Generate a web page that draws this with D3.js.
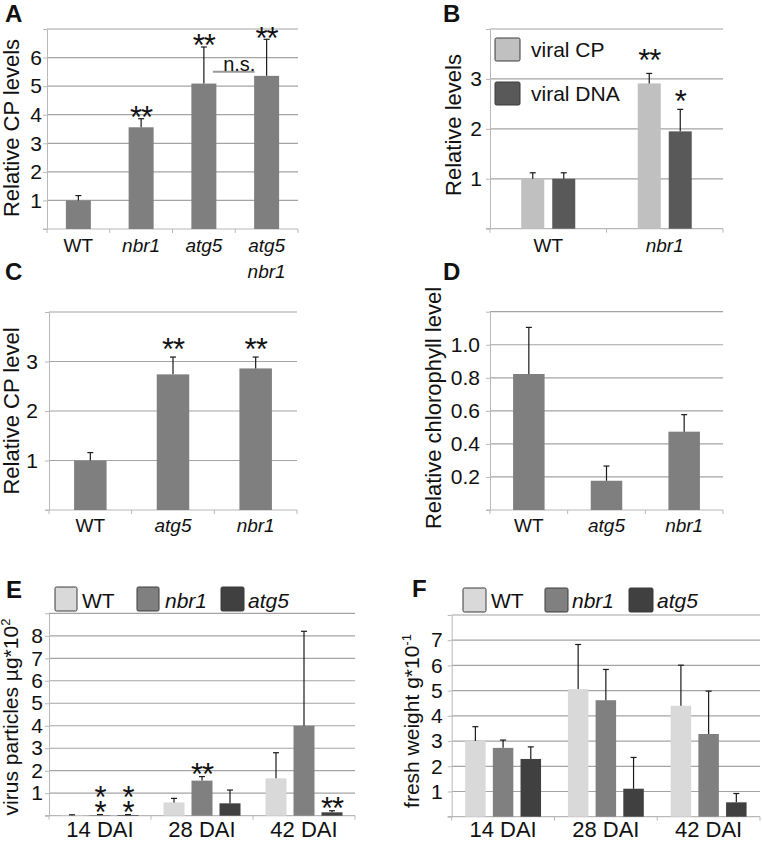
<!DOCTYPE html>
<html><head><meta charset="utf-8">
<script src="https://cdn.jsdelivr.net/npm/d3@7"></script>
<style>body{margin:0;background:#fff}svg{display:block}</style>
</head><body><svg id="c" width="762" height="842"></svg>
<script>
// ---------- DATA ----------
// Panel A
const aCategories = ["WT", "nbr1", "atg5", "atg5\nnbr1"];
const aValues = [1.0, 3.56, 5.09, 5.36];
const aErrors = [0.17, 0.30, 1.28, 1.28];
const aStars = ["", "**", "**", "**"];
const aTickLabels = [1, 2, 3, 4, 5, 6];

// Panel B
const bCategories = ["WT", "nbr1"];
const bSeriesNames = ["viral CP", "viral DNA"];
const bCP = [1.0, 2.91];
const bCPErr = [0.12, 0.20];
const bDNA = [1.0, 1.95];
const bDNAErr = [0.12, 0.44];
const bCPStars = ["", "**"];
const bDNAStars = ["", "*"];
const bTickLabels = [1, 2, 3];

// Panel C
const cCategories = ["WT", "atg5", "nbr1"];
const cValues = [1.0, 2.74, 2.86];
const cErrors = [0.16, 0.35, 0.23];
const cStars = ["", "**", "**"];
const cTickLabels = [1, 2, 3];

// Panel D
const dCategories = ["WT", "atg5", "nbr1"];
const dValues = [0.823, 0.177, 0.474];
const dErrors = [0.282, 0.089, 0.103];
const dStars = ["", "", ""];
const dTickLabels = [0.2, 0.4, 0.6, 0.8, 1.0];

// Panel E
const eCategories = ["14 DAI", "28 DAI", "42 DAI"];
const eSeriesNames = ["WT", "nbr1", "atg5"];
const eWT = [0.02, 0.59, 1.66];
const eWTErr = [0.02, 0.18, 1.14];
const eNbr1 = [0.03, 1.56, 4.0];
const eNbr1Err = [0.02, 0.18, 4.2];
const eAtg5 = [0.03, 0.55, 0.15];
const eAtg5Err = [0.02, 0.59, 0.07];
const eWTStars = ["", "", ""];
const eNbr1Stars = ["*\n*", "**", ""];
const eAtg5Stars = ["*\n*", "", "**"];
const eTickLabels = [1, 2, 3, 4, 5, 6, 7, 8];

// Panel F
const fCategories = ["14 DAI", "28 DAI", "42 DAI"];
const fSeriesNames = ["WT", "nbr1", "atg5"];
const fWT = [3.0, 5.06, 4.40];
const fWTErr = [0.57, 1.77, 1.61];
const fNbr1 = [2.73, 4.62, 3.28];
const fNbr1Err = [0.31, 1.22, 1.70];
const fAtg5 = [2.29, 1.11, 0.57];
const fAtg5Err = [0.48, 1.24, 0.35];
const fTickLabels = [1, 2, 3, 4, 5, 6, 7];

// ---------- DRAWING ----------
const FONT = '"Liberation Sans", Arial, Helvetica, sans-serif';
const svg = d3.select("#c").attr("font-family", FONT);
const GRID = "#a4a4a4", AXIS = "#b8b8b8";
const ITALIC = new Set(["nbr1", "atg5", "atg5\nnbr1"]);
const STAR_FONT = 31;

function drawPanel(p) {
  const g = svg.append("g");
  const x = d3.scaleBand().domain(p.categories).range([p.x0, p.x1]);
  const y = d3.scaleLinear().domain([0, p.yMax]).range([p.y0, p.y1]);
  const nGrid = Math.round(p.yMax / p.step);
  const gridVals = d3.range(1, nGrid + 1).map(i => +(i * p.step).toFixed(4));

  // gridlines
  g.append("g").selectAll("line").data(gridVals).join("line")
    .attr("x1", p.x0).attr("x2", p.x1)
    .attr("y1", d => y(d)).attr("y2", d => y(d))
    .attr("stroke", GRID).attr("stroke-width", 1.2);

  // left axis
  const yAxis = d3.axisLeft(y).tickValues([0, ...gridVals]).tickSize(4).tickSizeOuter(0)
    .tickPadding(p.labelGap)
    .tickFormat(d => p.tickLabels.some(t => Math.abs(t - d) < 1e-6) ? p.fmt(d) : "");
  const ga = g.append("g").attr("transform", `translate(${p.x0},0)`).call(yAxis)
    .attr("font-family", FONT).attr("font-size", p.tickFont);
  ga.select(".domain").attr("stroke", AXIS);
  ga.selectAll(".tick line").attr("stroke", AXIS);
  ga.selectAll(".tick text").attr("fill", "#111");

  // bottom axis
  g.append("line").attr("x1", p.x0 - 4).attr("x2", p.x1).attr("y1", p.y0).attr("y2", p.y0)
    .attr("stroke", AXIS).attr("stroke-width", 1.2);
  const bounds = p.categories.map(c => x(c)).concat([p.x1]);
  g.append("g").selectAll("line").data(bounds).join("line")
    .attr("x1", d => d).attr("x2", d => d).attr("y1", p.y0).attr("y2", p.y0 + 4)
    .attr("stroke", AXIS);

  // x labels
  p.categories.forEach(c => {
    const lines = c.split("\n");
    const t = g.append("text").attr("x", x(c) + x.bandwidth() / 2).attr("y", p.y0 + p.xLabelDy)
      .attr("text-anchor", "middle").attr("font-size", p.xFont).attr("fill", "#111")
      .attr("font-style", ITALIC.has(c) ? "italic" : "normal");
    lines.forEach((ln, i) => t.append("tspan").attr("x", x(c) + x.bandwidth() / 2)
      .attr("dy", i === 0 ? 0 : p.xFont * 1.37).text(ln));
  });

  // bars
  const n = p.series.length;
  const inner = d3.scaleBand().domain(p.series.map(s => s.name))
    .range([-n * p.barStep / 2, n * p.barStep / 2])
    .paddingInner(1 - p.barWidth / p.barStep).paddingOuter((1 - p.barWidth / p.barStep) / 2);
  const centers = [];
  p.series.forEach(s => {
    p.categories.forEach((c, i) => {
      const cx = x(c) + x.bandwidth() / 2 + inner(s.name) + inner.bandwidth() / 2;
      const v = s.values[i], e = s.errors[i];
      g.append("rect").attr("x", cx - inner.bandwidth() / 2).attr("y", y(v))
        .attr("width", inner.bandwidth()).attr("height", y(0) - y(v)).attr("fill", s.color);
      g.append("line").attr("x1", cx).attr("x2", cx).attr("y1", y(v)).attr("y2", y(v + e))
        .attr("stroke", "#1a1a1a").attr("stroke-width", 1.2);
      g.append("line").attr("x1", cx - 3).attr("x2", cx + 3).attr("y1", y(v + e)).attr("y2", y(v + e))
        .attr("stroke", "#1a1a1a").attr("stroke-width", 1.2);
      const st = s.stars ? s.stars[i] : "";
      if (st) {
        const rows = st.split("\n");
        rows.forEach((r, k) => {
          const cy = y(v + e) - (s.starOffset || p.starOffset) - (rows.length - 1 - k) * 15;
          g.append("text").attr("x", cx).attr("y", cy + STAR_FONT * 0.59).attr("text-anchor", "middle")
            .attr("font-size", STAR_FONT).attr("letter-spacing", -1).attr("fill", "#111").text(r);
        });
      }
      centers.push({ series: s.name, cat: c, cx });
    });
  });

  // y label
  const yl = g.append("text").attr("transform", `translate(${p.ylx},${p.yly}) rotate(-90)`)
    .attr("text-anchor", "middle").attr("font-size", p.yFont).attr("fill", "#111");
  yl.append("tspan").text(p.yLabel);
  if (p.ySup) {
    yl.append("tspan").attr("dy", -8).attr("font-size", 13).text(p.ySup);
  }

  // panel letter
  svg.append("text").attr("x", p.letterX).attr("y", p.letterY).attr("font-size", 24)
    .attr("font-weight", "bold").attr("fill", "#111").text(p.letter);

  return { g, x, y, centers };
}

function legend(items, font) {
  items.forEach(it => {
    svg.append("rect").attr("x", it.sx).attr("y", it.sy).attr("width", it.w).attr("height", it.h)
      .attr("rx", 1.5).attr("fill", it.color).attr("stroke", "#3a3a3a").attr("stroke-width", 1);
    svg.append("text").attr("x", it.tx).attr("y", it.ty).attr("font-size", font).attr("fill", "#111")
      .attr("font-style", ITALIC.has(it.label) ? "italic" : "normal").text(it.label);
  });
}

const MID = "#7f7f7f";

// Panel A
const A = drawPanel({
  letter: "A", letterX: 5, letterY: 22,
  categories: aCategories, x0: 47, x1: 298, y0: 229, y1: 29, yMax: 7, step: 1,
  tickLabels: aTickLabels, fmt: d3.format("d"), labelGap: 1, tickFont: 21,
  xFont: 19, xLabelDy: 23, barWidth: 25, barStep: 25, starOffset: 9,
  series: [{ name: "A", values: aValues, errors: aErrors, stars: aStars, color: MID }],
  yLabel: "Relative CP levels", yFont: 22, ylx: 19, yly: 128
});
// n.s. annotation
{
  const xa = A.centers.find(c => c.cat === "atg5").cx;
  const xb = A.centers.find(c => c.cat === "atg5\nnbr1").cx;
  const ly = A.y(5.5);
  A.g.append("line").attr("x1", xa + 9).attr("x2", xb - 12).attr("y1", ly).attr("y2", ly)
    .attr("stroke", "#9a9a9a").attr("stroke-width", 2);
  A.g.append("text").attr("x", (xa + xb) / 2 + 4).attr("y", ly - 1).attr("text-anchor", "middle")
    .attr("font-size", 20).attr("fill", "#111").text("n.s.");
}

// Panel B
drawPanel({
  letter: "B", letterX: 443, letterY: 22,
  categories: bCategories, x0: 490, x1: 723, y0: 228.7, y1: 29, yMax: 4, step: 1,
  tickLabels: bTickLabels, fmt: d3.format("d"), labelGap: 4, tickFont: 21,
  xFont: 19, xLabelDy: 23, barWidth: 23, barStep: 31, starOffset: 18,
  series: [
    { name: bSeriesNames[0], values: bCP, errors: bCPErr, stars: bCPStars, color: "#c0c0c0", starOffset: 21 },
    { name: bSeriesNames[1], values: bDNA, errors: bDNAErr, stars: bDNAStars, color: "#595959", starOffset: 16 }
  ],
  yLabel: "Relative levels", yFont: 22, ylx: 461, yly: 125
});
legend([
  { sx: 495, sy: 38, w: 25, h: 23, color: "#c0c0c0", tx: 531, ty: 57, label: bSeriesNames[0] },
  { sx: 495, sy: 82, w: 25, h: 23, color: "#595959", tx: 531, ty: 101, label: bSeriesNames[1] }
], 21);

// Panel C
drawPanel({
  letter: "C", letterX: 5, letterY: 280,
  categories: cCategories, x0: 49, x1: 297, y0: 510, y1: 312, yMax: 4, step: 1,
  tickLabels: cTickLabels, fmt: d3.format("d"), labelGap: 7, tickFont: 21,
  xFont: 19, xLabelDy: 22, barWidth: 32.5, barStep: 32.5, starOffset: 15,
  series: [{ name: "C", values: cValues, errors: cErrors, stars: cStars, color: MID }],
  yLabel: "Relative CP level", yFont: 22, ylx: 19, yly: 411
});

// Panel D
drawPanel({
  letter: "D", letterX: 443, letterY: 280,
  categories: dCategories, x0: 490, x1: 723, y0: 510, y1: 311.7, yMax: 1.2, step: 0.2,
  tickLabels: dTickLabels, fmt: d3.format(".1f"), labelGap: 6, tickFont: 21,
  xFont: 19, xLabelDy: 22, barWidth: 31.5, barStep: 31.5, starOffset: 15,
  series: [{ name: "D", values: dValues, errors: dErrors, stars: dStars, color: MID }],
  yLabel: "Relative chlorophyll level", yFont: 22, ylx: 441, yly: 408
});

// Panel E
drawPanel({
  letter: "E", letterX: 6, letterY: 598,
  categories: eCategories, x0: 49, x1: 355, y0: 815.7, y1: 613.3, yMax: 9, step: 1,
  tickLabels: eTickLabels, fmt: d3.format("d"), labelGap: 2, tickFont: 21,
  xFont: 22, xLabelDy: 21.3, barWidth: 21, barStep: 28, starOffset: 10,
  series: [
    { name: eSeriesNames[0], values: eWT, errors: eWTErr, stars: eWTStars, color: "#d9d9d9" },
    { name: eSeriesNames[1], values: eNbr1, errors: eNbr1Err, stars: eNbr1Stars, color: "#808080" },
    { name: eSeriesNames[2], values: eAtg5, errors: eAtg5Err, stars: eAtg5Stars, color: "#404040" }
  ],
  yLabel: "virus particles µg*10", ySup: "2", yFont: 21, ylx: 18, yly: 717
});
legend([
  { sx: 55, sy: 587, w: 22, h: 24, color: "#d9d9d9", tx: 82, ty: 608, label: eSeriesNames[0] },
  { sx: 137, sy: 587, w: 22, h: 24, color: "#808080", tx: 165, ty: 608, label: eSeriesNames[1] },
  { sx: 221, sy: 587, w: 23, h: 24, color: "#404040", tx: 248, ty: 608, label: eSeriesNames[2] }
], 21);

// Panel F
drawPanel({
  letter: "F", letterX: 412, letterY: 597,
  categories: fCategories, x0: 451.7, x1: 760, y0: 816.7, y1: 615, yMax: 8, step: 1,
  tickLabels: fTickLabels, fmt: d3.format("d"), labelGap: 5, tickFont: 21,
  xFont: 22, xLabelDy: 20.3, barWidth: 20.5, barStep: 27.7, starOffset: 10,
  series: [
    { name: fSeriesNames[0], values: fWT, errors: fWTErr, color: "#d9d9d9" },
    { name: fSeriesNames[1], values: fNbr1, errors: fNbr1Err, color: "#808080" },
    { name: fSeriesNames[2], values: fAtg5, errors: fAtg5Err, color: "#404040" }
  ],
  yLabel: "fresh weight g*10", ySup: "-1", yFont: 21, ylx: 419, yly: 721
});
legend([
  { sx: 463, sy: 588, w: 23, h: 24, color: "#d9d9d9", tx: 491, ty: 608, label: fSeriesNames[0] },
  { sx: 545, sy: 588, w: 23, h: 24, color: "#808080", tx: 572, ty: 608, label: fSeriesNames[1] },
  { sx: 629, sy: 588, w: 24, h: 24, color: "#404040", tx: 657, ty: 608, label: fSeriesNames[2] }
], 21);
</script>
</body></html>
